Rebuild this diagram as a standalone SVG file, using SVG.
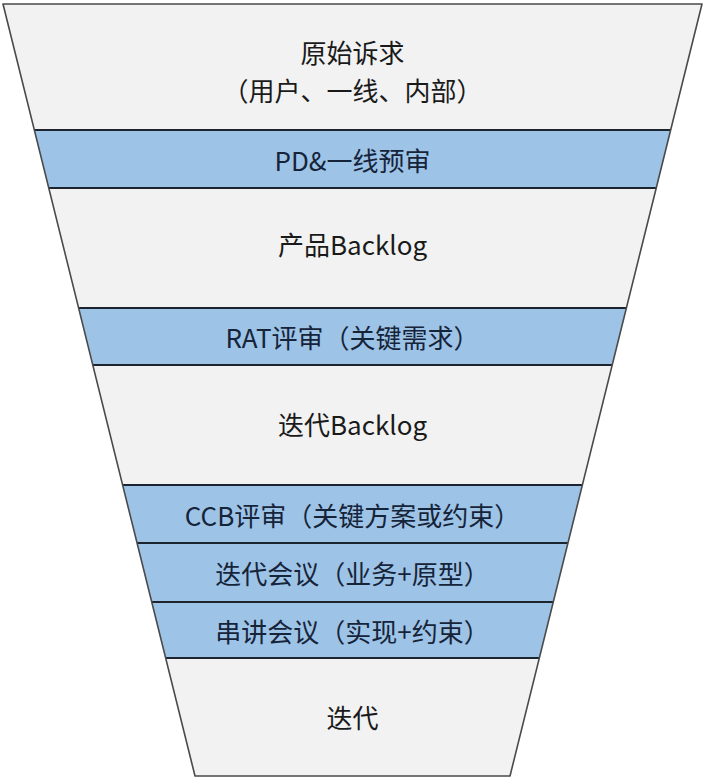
<svg xmlns="http://www.w3.org/2000/svg" width="705" height="780" viewBox="0 0 705 780">
<style>
.g{fill:#f2f2f2}
.b{fill:#9dc3e6}
.t{font-family:"Noto Sans CJK SC","Noto Sans",sans-serif;font-size:26px;text-anchor:middle;dominant-baseline:central;fill:#1a1a1a}
.tb{fill:#16243a}
.sep{stroke:#1c2430;stroke-width:2.2;fill:none}
.out{stroke:#4a4a4a;stroke-width:1.6;fill:none;stroke-linejoin:round}
</style>
<rect width="705" height="780" fill="#ffffff"/>
<g id="band1"><polygon class="g" points="3,4 702,4 670.7,130 34.3,130"/><text class="t" x="352.5" y="51">原始诉求</text><text class="t" x="352.5" y="89">（用户、一线、内部）</text></g>
<g id="band2"><polygon class="b" points="34.3,130 670.7,130 656.2,188 48.8,188"/><text class="t tb" x="352.5" y="159">PD&amp;一线预审</text></g>
<g id="band3"><polygon class="g" points="48.8,188 656.2,188 626.4,308 78.6,308"/><text class="t" x="352.5" y="243">产品Backlog</text></g>
<g id="band4"><polygon class="b" points="78.6,308 626.4,308 612.2,365 92.8,365"/><text class="t tb" x="352.5" y="336">RAT评审（关键需求）</text></g>
<g id="band5"><polygon class="g" points="92.8,365 612.2,365 582.4,485 122.6,485"/><text class="t" x="352.5" y="423">迭代Backlog</text></g>
<g id="band6"><polygon class="b" points="122.6,485 582.4,485 567.9,543 137.1,543"/><text class="t tb" x="352.5" y="514">CCB评审（关键方案或约束）</text></g>
<g id="band7"><polygon class="b" points="137.1,543 567.9,543 553.3,602 151.7,602"/><text class="t tb" x="352.5" y="572">迭代会议（业务+原型）</text></g>
<g id="band8"><polygon class="b" points="151.7,602 553.3,602 539.4,658 165.6,658"/><text class="t tb" x="352.5" y="630">串讲会议（实现+约束）</text></g>
<g id="band9"><polygon class="g" points="165.6,658 539.4,658 510,776 195,776"/><text class="t" x="352.5" y="716">迭代</text></g>
<g id="connectors">
<line class="sep" x1="34.3" y1="130" x2="670.7" y2="130"/>
<line class="sep" x1="48.8" y1="188" x2="656.2" y2="188"/>
<line class="sep" x1="78.6" y1="308" x2="626.4" y2="308"/>
<line class="sep" x1="92.8" y1="365" x2="612.2" y2="365"/>
<line class="sep" x1="122.6" y1="485" x2="582.4" y2="485"/>
<line class="sep" x1="137.1" y1="543" x2="567.9" y2="543"/>
<line class="sep" x1="151.7" y1="602" x2="553.3" y2="602"/>
<line class="sep" x1="165.6" y1="658" x2="539.4" y2="658"/>
<polygon class="out" points="3,4 702,4 510,776 195,776"/>
</g>
</svg>
